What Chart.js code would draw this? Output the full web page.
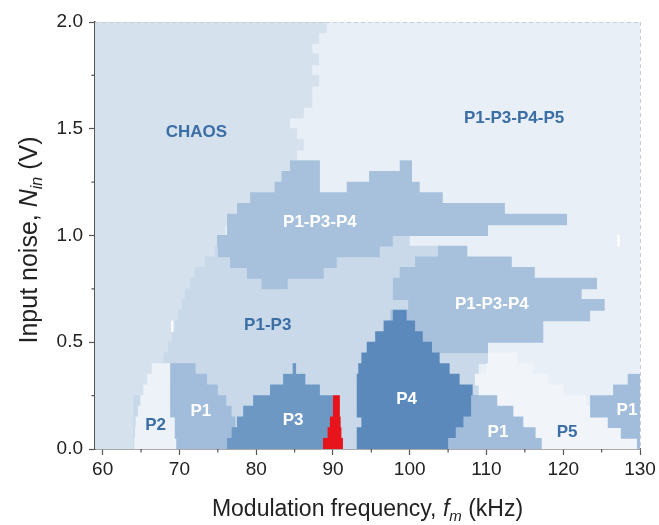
<!DOCTYPE html>
<html>
<head>
<meta charset="utf-8">
<script src="https://cdn.jsdelivr.net/npm/chart.js@4.4.1/dist/chart.umd.min.js"></script>
<style>
	html, body { margin: 0; padding: 0; background: #fff; }
</style>
</head>
<body>
<canvas id="phaseMap" width="659" height="525"></canvas>
<script>
// each region is a list of rows: [row bottom (V), from (kHz), to (kHz)], rows are 0.05 V tall
const ROW = 0.05;

const chaosRows = [
	[1.95, 59, 89.2], [1.9, 59, 88.2], [1.85, 59, 87.3], [1.8, 59, 88.2], [1.75, 59, 87.3],
	[1.7, 59, 88.2], [1.65, 59, 87.3], [1.6, 59, 87.3], [1.55, 59, 86.2], [1.5, 59, 84.4],
	[1.45, 59, 85.3], [1.4, 59, 86.2], [1.35, 59, 85.3], [1.3, 59, 85], [1.25, 59, 84],
	[1.2, 59, 83], [1.15, 59, 80], [1.1, 59, 78], [1.05, 59, 77], [1.0, 59, 76],
	[0.95, 59, 75], [0.9, 59, 75], [0.85, 59, 75], [0.8, 59, 75], [0.75, 59, 75],
	[0.7, 59, 75], [0.65, 59, 75], [0.6, 59, 75], [0.55, 59, 75], [0.5, 59, 75],
	[0.45, 59, 75], [0.4, 59, 75], [0.35, 59, 75], [0.3, 59, 75], [0.25, 59, 75],
	[0.2, 59, 75], [0.15, 59, 75], [0.1, 59, 75], [0.05, 59, 75], [0.0, 59, 75],
];

const p1p3Rows = [
	[0.95, 74.9, 100], [0.9, 74.6, 104], [0.85, 73.3, 101], [0.8, 72.0, 99], [0.75, 71.4, 98],
	[0.7, 70.7, 98], [0.65, 70.3, 100], [0.6, 69.8, 100], [0.55, 69.4, 101], [0.5, 69.0, 102],
	[0.45, 68.5, 110.2], [0.4, 67.9, 110.2], [0.35, 67.5, 109], [0.3, 67.5, 108.5], [0.25, 67.5, 109],
	[0.2, 64, 109], [0.15, 64, 109], [0.1, 64, 109], [0.05, 64, 109], [0.0, 64, 109],
];

const p5Rows = [
	[0.4, 110.2, 114], [0.35, 110, 116], [0.3, 108.5, 118], [0.25, 109, 120], [0.2, 110, 123],
	[0.15, 112, 124], [0.1, 114, 126.5], [0.05, 116, 128], [0.0, 117, 130],
];

const upperMixRows = [
	[1.3, 84.4, 88.3], [1.3, 98.7, 100.3],
	[1.25, 83.3, 88.3], [1.25, 94.7, 100.3],
	[1.2, 82.4, 88.3], [1.2, 91.8, 101.3],
	[1.15, 79.2, 104.3], [1.1, 77.5, 112.4], [1.05, 76.2, 120.5], [1.0, 76.2, 110.2],
	[0.95, 74.9, 97.8], [0.9, 75.0, 96.1], [0.85, 76.6, 90.5], [0.8, 78.8, 88.8], [0.75, 80.7, 84.1],
];

const lowerMixRows = [
	[0.9, 103.7, 107.5], [0.85, 100.7, 113.3], [0.8, 98.7, 116.3], [0.75, 97.8, 124.4],
	[0.7, 97.8, 122.4], [0.65, 99.8, 125.4], [0.6, 97.5, 123.5], [0.55, 97, 117.4],
	[0.5, 97, 117.4], [0.45, 97, 110.2],
];

const p2Rows = [
	[0.35, 66.4, 68.8], [0.3, 65.8, 68.8], [0.25, 65.3, 68.8], [0.2, 64.9, 68.8],
	[0.15, 64.6, 68.8], [0.1, 64.3, 69.4], [0.05, 64.2, 69.4], [0.0, 64.1, 69.6],
];

const p1LeftRows = [
	[0.35, 68.8, 72.1], [0.3, 68.8, 73.6], [0.25, 68.8, 75.0], [0.2, 68.8, 76.1],
	[0.15, 68.8, 76.8], [0.1, 69.4, 77.3], [0.05, 69.4, 77.3], [0.0, 69.6, 77.0],
];

const p3Rows = [
	[0.35, 84.75, 85.2], [0.3, 83.5, 86.4], [0.25, 81.8, 88.3], [0.2, 79.6, 90.0],
	[0.15, 78.3, 90.0], [0.1, 77.5, 90.0], [0.05, 76.8, 90.0], [0.0, 76.2, 90.0],
];

const p4Rows = [
	[0.6, 97.8, 99.6], [0.55, 96.6, 100.7], [0.5, 95.5, 101.7], [0.45, 94.4, 102.9],
	[0.4, 93.7, 103.9], [0.35, 93.3, 105.2], [0.3, 93.1, 106.5], [0.25, 93.1, 108.2],
	[0.2, 93.1, 108.7], [0.15, 93.1, 108.7], [0.1, 93.7, 107.9], [0.05, 93.1, 106.5],
	[0.0, 93.1, 105.6],
];

const p1MidRows = [
	[0.2, 108.0, 111.4], [0.15, 108.0, 113.5], [0.1, 107.0, 114.8], [0.05, 106.0, 116.4],
	[0.0, 105.0, 117.2],
];

const p1RightRows = [
	[0.3, 128.4, 130], [0.25, 126.5, 130], [0.2, 123.5, 130], [0.15, 123.5, 130],
	[0.1, 125.8, 130], [0.05, 127.5, 130], [0.0, 129.6, 130],
];

const markerRows = [
	[0.2, 90.0, 90.9], [0.15, 90.0, 90.9], [0.1, 89.6, 91.0], [0.05, 89.3, 91.1], [0.0, 88.7, 91.3],
];

// two unresolved cells left blank
const blankRows = [
	[0.55, 68.9, 69.2], [0.95, 127.0, 127.4],
];

// region names written on the map
const regionNames = ['CHAOS', 'P1-P3-P4-P5', 'P1-P3-P4', 'P1-P3-P4', 'P1-P3', 'P2', 'P1', 'P3', 'P4', 'P1', 'P5', 'P1'];
const regionFreq = [72.2, 113.6, 88.3, 110.7, 81.5, 66.9, 72.8, 84.8, 99.6, 111.5, 120.5, 128.3];
const regionNoise = [1.485, 1.55, 1.063, 0.68, 0.58, 0.112, 0.178, 0.136, 0.234, 0.08, 0.08, 0.183];
const regionOnDark = [false, false, true, true, false, false, true, true, true, true, false, true];

const freqTicks = [60, 70, 80, 90, 100, 110, 120, 130];
const noiseTicks = [0, 0.5, 1.0, 1.5, 2.0];

const FONT = '"Liberation Sans", Arial, Helvetica, sans-serif';
const BACKGROUND = '#e9eff7';

// bottom layer first
const layers = [
	{ name: 'CHAOS', rows: chaosRows, color: '#d5e1ed' },
	{ name: 'P1-P3', rows: p1p3Rows, color: '#c9d9ea' },
	{ name: 'P5', rows: p5Rows, color: '#f1f5fa' },
	{ name: 'P1-P3-P4 upper', rows: upperMixRows, color: '#a7c1dc' },
	{ name: 'P1-P3-P4 lower', rows: lowerMixRows, color: '#a7c1dc' },
	{ name: 'P2', rows: p2Rows, color: '#ecf2f8' },
	{ name: 'P1 left', rows: p1LeftRows, color: '#a2bddb' },
	{ name: 'P3', rows: p3Rows, color: '#6e98c4' },
	{ name: 'P4', rows: p4Rows, color: '#5b89bb' },
	{ name: 'P1 middle', rows: p1MidRows, color: '#a2bddb' },
	{ name: 'P1 right', rows: p1RightRows, color: '#a2bddb' },
	{ name: 'marker', rows: markerRows, color: '#e8141c' },
	{ name: 'blank', rows: blankRows, color: '#fbfcfe' },
];

const rowCenter = (v) => Math.round((v + ROW / 2) * 1000) / 1000;

const datasets = layers.map((layer, i) => ({
	label: layer.name,
	data: layer.rows.map(([v, from, to]) => ({ x: [from, to], y: rowCenter(v) })),
	backgroundColor: layer.color,
	borderWidth: 0,
	grouped: false,
	barPercentage: 1.08,
	categoryPercentage: 1,
	order: layers.length - i,
}));

const mapDecor = {
	id: 'mapDecor',
	beforeDatasetsDraw(chart) {
		const { ctx, chartArea } = chart;
		ctx.save();
		ctx.fillStyle = BACKGROUND;
		ctx.fillRect(chartArea.left, chartArea.top, chartArea.right - chartArea.left, chartArea.bottom - chartArea.top);
		ctx.restore();
	},
	afterDatasetsDraw(chart) {
		const { ctx, scales } = chart;
		ctx.save();
		ctx.font = 'bold 17px ' + FONT;
		ctx.textAlign = 'center';
		ctx.textBaseline = 'middle';
		regionNames.forEach((name, i) => {
			ctx.fillStyle = regionOnDark[i] ? '#ffffff' : '#3b6ea5';
			ctx.fillText(name, scales.x.getPixelForValue(regionFreq[i]), scales.y.getPixelForValue(regionNoise[i]));
		});
		ctx.restore();
	},
	afterDraw(chart) {
		const { ctx, chartArea, scales } = chart;
		const { left, right, top, bottom } = chartArea;
		ctx.save();

		// dashed frame on top and right
		ctx.strokeStyle = '#c4cdd8';
		ctx.lineWidth = 1;
		ctx.setLineDash([4, 3]);
		ctx.beginPath();
		ctx.moveTo(left, top + 0.5);
		ctx.lineTo(right, top + 0.5);
		ctx.moveTo(right + 0.5, top);
		ctx.lineTo(right + 0.5, bottom);
		ctx.stroke();
		ctx.setLineDash([]);

		// minor ticks
		ctx.strokeStyle = '#555';
		ctx.lineWidth = 1.2;
		ctx.beginPath();
		for (let f = 65; f < 130; f += 10) {
			const px = scales.x.getPixelForValue(f);
			ctx.moveTo(px, bottom);
			ctx.lineTo(px, bottom + 3.5);
		}
		[0.25, 0.75, 1.25, 1.75].forEach((n) => {
			const py = scales.y.getPixelForValue(n);
			ctx.moveTo(left, py);
			ctx.lineTo(left - 3.5, py);
		});
		ctx.stroke();

		// axis titles with italic symbols
		const drawParts = (parts, cx, cy) => {
			let width = 0;
			parts.forEach((p) => {
				ctx.font = p.font;
				width += ctx.measureText(p.text).width;
			});
			let x = cx - width / 2;
			parts.forEach((p) => {
				ctx.font = p.font;
				ctx.fillText(p.text, x, cy + (p.dy || 0));
				x += ctx.measureText(p.text).width;
			});
		};
		ctx.fillStyle = '#222';
		ctx.textAlign = 'left';
		ctx.textBaseline = 'alphabetic';
		const big = '23px ' + FONT;
		const bigItalic = 'italic 23px ' + FONT;
		const small = 'italic 15px ' + FONT;
		drawParts([
			{ text: 'Modulation frequency, ', font: big },
			{ text: 'f', font: bigItalic },
			{ text: 'm', font: small, dy: 5 },
			{ text: ' (kHz)', font: big },
		], (left + right) / 2, 516);

		const tall = '25px ' + FONT;
		const tallItalic = 'italic 25px ' + FONT;
		const tallSmall = 'italic 16px ' + FONT;
		ctx.translate(37, 240);
		ctx.rotate(-Math.PI / 2);
		drawParts([
			{ text: 'Input noise, ', font: tall },
			{ text: 'N', font: tallItalic },
			{ text: 'in', font: tallSmall, dy: 5 },
			{ text: ' (V)', font: tall },
		], 0, 0);
		ctx.restore();
	},
};

const axisFont = { family: FONT, size: 19 };

new Chart(document.getElementById('phaseMap'), {
	type: 'bar',
	data: { datasets },
	options: {
		indexAxis: 'y',
		responsive: false,
		animation: false,
		events: [],
		layout: { padding: { top: 22, right: 19, left: 0, bottom: 0 } },
		plugins: { legend: { display: false }, tooltip: { enabled: false } },
		scales: {
			x: {
				type: 'linear',
				min: 59,
				max: 130,
				offset: false,
				afterFit: (scale) => { scale.height = 76; },
				afterBuildTicks: (scale) => { scale.ticks = freqTicks.map((value) => ({ value })); },
				ticks: { color: '#222', font: axisFont, padding: 3, maxRotation: 0, callback: (v) => v },
				grid: { offset: false, drawOnChartArea: false, tickLength: 6, color: '#555', tickWidth: 1.2 },
				border: { color: '#555', width: 1.6 },
			},
			y: {
				type: 'linear',
				min: 0,
				max: 2,
				offset: false,
				afterFit: (scale) => { scale.width = 95; },
				afterBuildTicks: (scale) => { scale.ticks = noiseTicks.map((value) => ({ value })); },
				ticks: { color: '#222', font: axisFont, padding: 6, callback: (v) => v.toFixed(1) },
				grid: { offset: false, drawOnChartArea: false, tickLength: 6, color: '#555', tickWidth: 1.2 },
				border: { color: '#555', width: 1.6 },
			},
		},
	},
	plugins: [mapDecor],
});
</script>
</body>
</html>
